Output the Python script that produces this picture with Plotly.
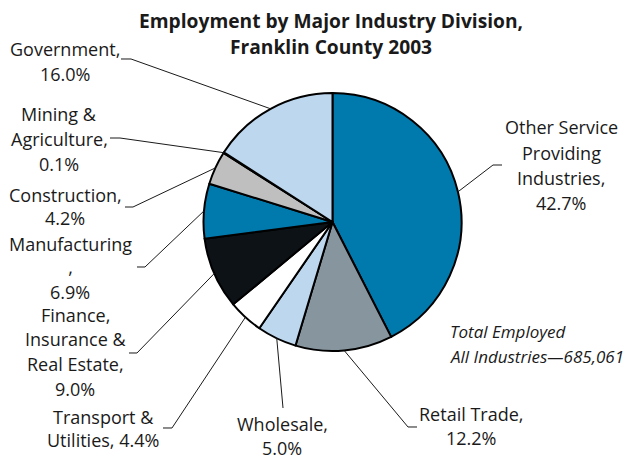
import math
import plotly.graph_objects as go

# ---- data ---------------------------------------------------------------
industries = [
    "Other Service Providing Industries",
    "Retail Trade",
    "Wholesale",
    "Transport & Utilities",
    "Finance, Insurance & Real Estate",
    "Manufacturing",
    "Construction",
    "Mining & Agriculture",
    "Government",
]
shares = [42.7, 12.2, 5.0, 4.4, 9.0, 6.9, 4.2, 0.1, 16.0]
# text lines of each slice label; {pct} is filled from shares
label_lines = [
    ["Other Service", "Providing", "Industries,", "{pct}"],
    ["Retail Trade,", "{pct}"],
    ["Wholesale,", "{pct}"],
    ["Transport &", "Utilities, {pct}"],
    ["Finance,", "Insurance &", "Real Estate,", "{pct}"],
    ["Manufacturing<br>,", "{pct}"],
    ["Construction,", "{pct}"],
    ["Mining &", "Agriculture,", "{pct}"],
    ["Government,", "{pct}"],
]
total_employed = 685061
title_lines = ["Employment by Major Industry Division,", "Franklin County 2003"]

# ---- styling / layout ---------------------------------------------------
W, H = 624, 460
CX, CY, R = 332.5, 222.0, 129.0          # pie centre and radius in px
FONT = "Open Sans"
colors = ["#0079ad", "#87959e", "#bdd7ee", "#ffffff", "#0d1217",
          "#0079ad", "#bfbfbf", "#0d1217", "#bdd7ee"]

# label placement: centre x, centre y of each text block, and leader elbow points (px)
label_pos = [
    (561, [127, 153, 178, 203], [(493, 165), (502, 165)]),
    (471, [414, 438], [(408, 427), (417, 427)]),
    (282, [424, 448], [(283, 408)]),
    (103, [417, 440], [(172, 428), (163, 428)]),
    (75, [315, 339, 364, 389], [(137, 353), (129, 353)]),
    (70, [255, 292], [(145, 267), (137, 267)]),
    (65, [195, 218], [(133, 207), (125, 207)]),
    (59, [114, 139, 164], [(120, 138), (110, 138)]),
    (65, [49, 74], [(131, 59), (121, 59)]),
]


def px(x, y):
    return x / W, 1 - y / H


x0, y_top = px(CX - R, CY - R)
x1, y_bot = px(CX + R, CY + R)

fig = go.Figure(
    go.Pie(
        labels=industries,
        values=shares,
        sort=False,
        direction="clockwise",
        rotation=0,
        marker=dict(colors=colors, line=dict(color="#000000", width=2)),
        textinfo="none",
        hoverinfo="label+percent",
        showlegend=False,
        domain=dict(x=[x0, x1], y=[y_bot, y_top]),
    )
)

annotations = []
shapes = []
total = sum(shares)
cum = 0.0
for name, v, lines, (lx, ys, elbow) in zip(industries, shares, label_lines, label_pos):
    mid = (cum + v / 2) / total
    cum += v
    ang = 2 * math.pi * mid                      # clockwise from 12 o'clock
    ex, ey = CX + R * math.sin(ang), CY - R * math.cos(ang)
    pts = [(ex, ey)] + elbow
    path = "M " + " L ".join(f"{px(a, b)[0]:.5f},{px(a, b)[1]:.5f}" for a, b in pts)
    shapes.append(dict(type="path", path=path, xref="paper", yref="paper",
                       line=dict(color="#1a1a1a", width=1)))
    pct = f"{v:.1f}%"
    for txt, yy in zip(lines, ys):
        ax, ay = px(lx, yy)
        annotations.append(dict(text=txt.format(pct=pct), x=ax, y=ay, xref="paper", yref="paper",
                                xanchor="center", yanchor="middle", showarrow=False,
                                font=dict(family=FONT, size=18, color="#1a1a1a")))

# title
for txt, yy in zip(title_lines, [21, 47]):
    ax, ay = px(331, yy)
    annotations.append(dict(text=f"<b>{txt}</b>", x=ax, y=ay, xref="paper", yref="paper",
                            xanchor="center", yanchor="middle", showarrow=False,
                            font=dict(family=FONT, size=19.2, color="#1a1a1a")))

# total employed note
for txt, yy in zip(["Total Employed", f"All Industries\u2014{total_employed:,}"], [331, 356]):
    ax, ay = px(448, yy)
    annotations.append(dict(text=f"<i>{txt}</i>", x=ax, y=ay, xref="paper", yref="paper",
                            xanchor="left", yanchor="middle", showarrow=False,
                            font=dict(family=FONT, size=17, color="#1a1a1a")))

fig.update_layout(
    width=W, height=H,
    margin=dict(l=0, r=0, t=0, b=0),
    paper_bgcolor="white", plot_bgcolor="white",
    annotations=annotations, shapes=shapes,
)

fig.write_html("out.html")
